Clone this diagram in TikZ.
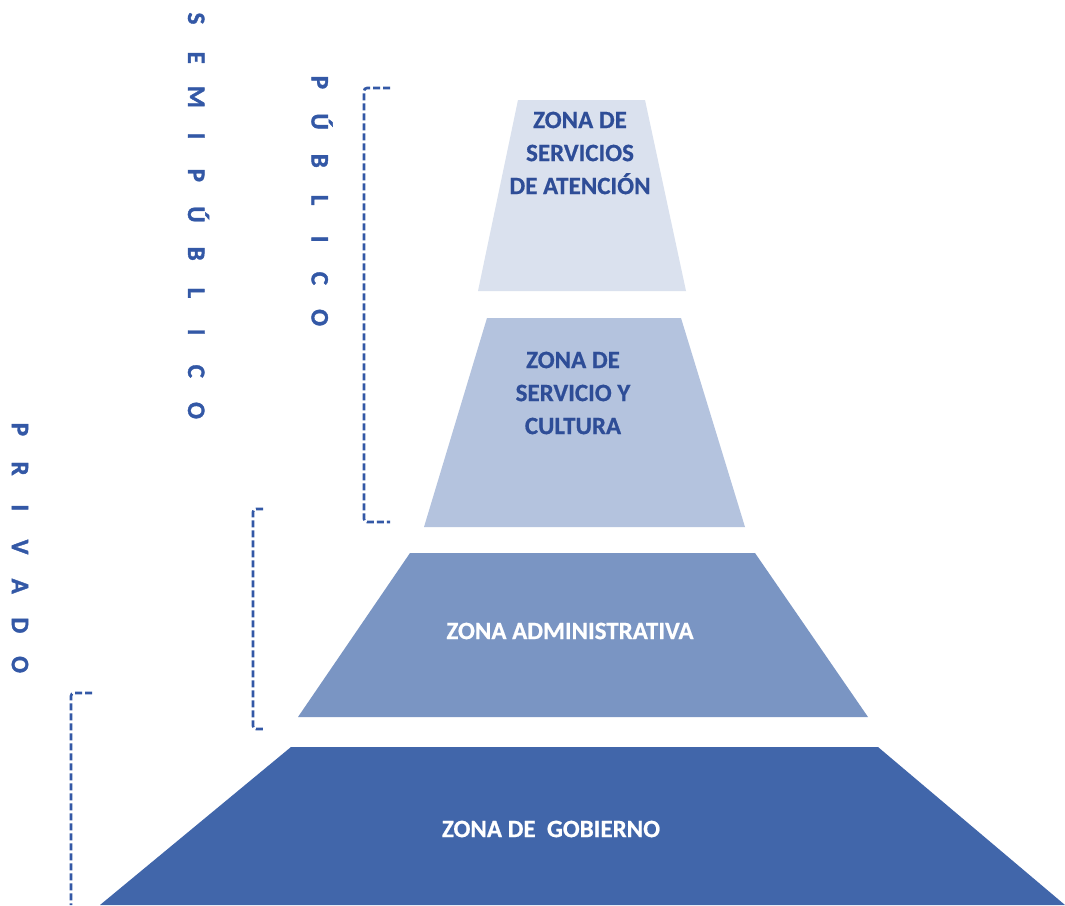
\documentclass[tikz,border=0pt]{standalone}
\usepackage{fontspec}
\setmainfont{Carlito}
\newfontfamily\sidefont[FakeBold=1.5]{Carlito Bold}
\newfontfamily\labelfont[FakeBold=0.6]{Carlito Bold}
\definecolor{zoneA}{HTML}{DAE1EE}
\definecolor{zoneB}{HTML}{B4C3DE}
\definecolor{zoneC}{HTML}{7A95C3}
\definecolor{zoneD}{HTML}{4166AA}
\definecolor{labelblue}{HTML}{2E4D97}
\definecolor{sideblue}{HTML}{3358A6}
\newcommand\lt[1]{\makebox[39.2pt]{#1}}
\begin{document}
\begin{tikzpicture}[x=1pt,y=-1pt,
  zlabel/.style={font=\labelfont\fontsize{25}{33}\selectfont, align=center, inner sep=0pt},
  sidetext/.style={font=\sidefont\fontsize{25}{28}\selectfont, text=sideblue, rotate=-90, inner sep=0pt},
  bracket/.style={draw=sideblue, line width=2.6pt, dash pattern=on 7pt off 3pt, rounded corners=3pt}]
\useasboundingbox (0,0) rectangle (1065,905);
\fill[white] (0,0) rectangle (1065,905);
% trapezoids
\fill[zoneA] (518,100) -- (645,100) -- (686,291) -- (478,291) -- cycle;
\fill[zoneB] (487,318) -- (681,318) -- (745,527) -- (424,527) -- cycle;
\fill[zoneC] (410,553) -- (755,553) -- (868,717) -- (298,717) -- cycle;
\fill[zoneD] (291,747) -- (878,747) -- (1065,905) -- (100,905) -- cycle;
% labels
\node[zlabel, text=labelblue] (l1) at (580,153) {ZONA DE\\SERVICIOS\\DE ATENCIÓN};
\node[zlabel, text=labelblue] (l2) at (573,393) {ZONA DE\\SERVICIO Y\\CULTURA};
\node[zlabel, text=white] (l3) at (570,631) {ZONA ADMINISTRATIVA};
\node[zlabel, text=white] (l4) at (551,829) {ZONA DE\ \ GOBIERNO};
% side texts
\node[sidetext] (semi) at (198.5,214.5) {\lt{S}\lt{E}\lt{M}\lt{I}\lt{P}\lt{Ú}\lt{B}\lt{L}\lt{I}\lt{C}\lt{O}};
\node[sidetext] (pub) at (322,200) {\lt{P}\lt{Ú}\lt{B}\lt{L}\lt{I}\lt{C}\lt{O}};
\node[sidetext] (priv) at (20,547) {\lt{P}\lt{R}\lt{I}\lt{V}\lt{A}\lt{D}\lt{O}};
% brackets
\coordinate (b1a) at (390,88);
\coordinate (b1b) at (390,522);
\draw[bracket] (b1a) -- (364,88) -- (364,522) -- (b1b);
\coordinate (b2a) at (263,509);
\coordinate (b2b) at (263,729);
\draw[bracket] (b2a) -- (253,509) -- (253,729) -- (b2b);
\coordinate (b3a) at (92,693);
\coordinate (b3b) at (71,905);
\draw[bracket] (b3a) -- (71,693) -- (b3b);
\end{tikzpicture}
\end{document}
